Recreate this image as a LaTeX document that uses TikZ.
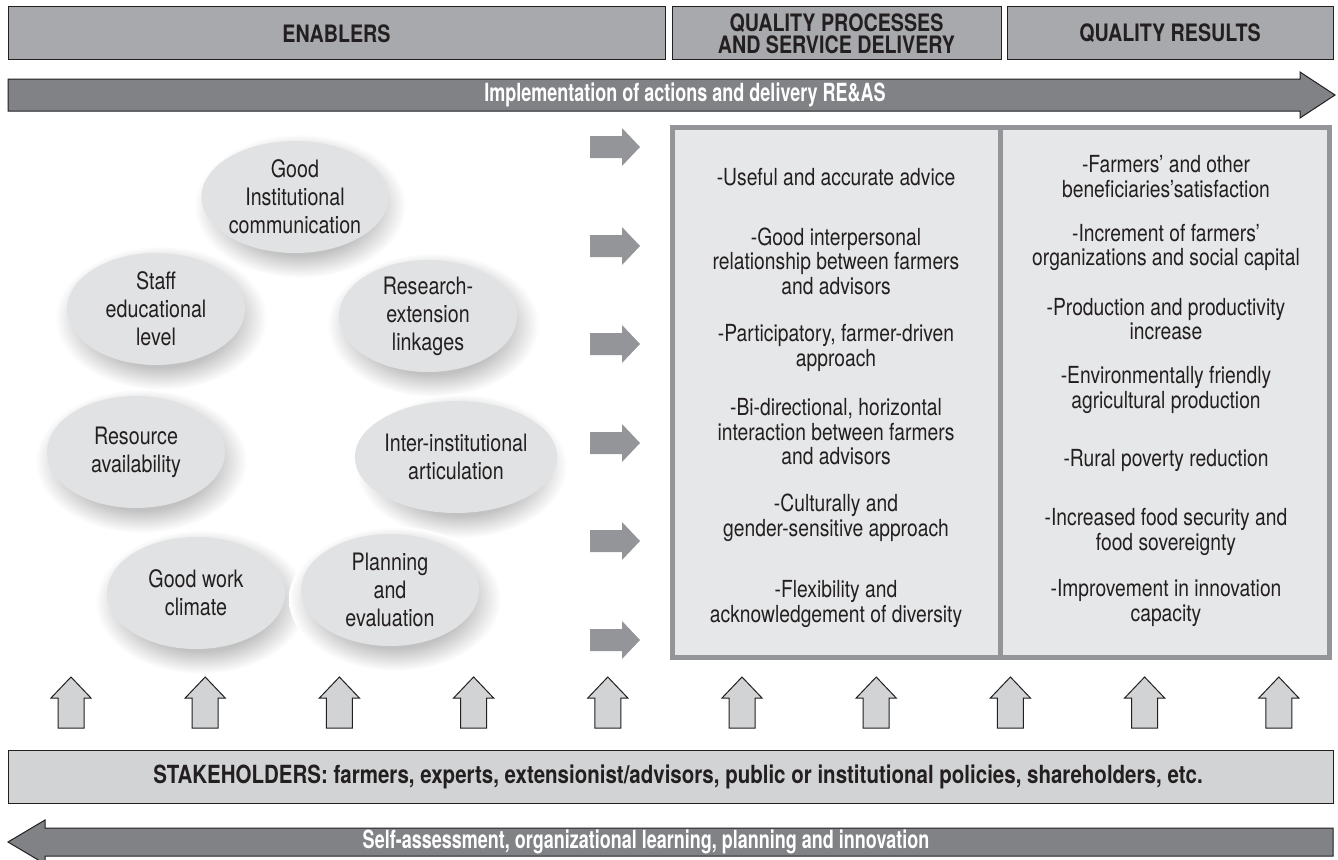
\documentclass[tikz,border=0pt]{standalone}
\usepackage{fontspec}
\setmainfont{TeX Gyre Heros}[FakeStretch=0.82]
\newfontfamily\cndfont{TeX Gyre Heros}[FakeStretch=0.72]
\usetikzlibrary{shapes.geometric}
\definecolor{hdrfill}{HTML}{A7A9AC}
\definecolor{implfill}{HTML}{808285}
\definecolor{rarrfill}{HTML}{939598}
\definecolor{boxfill}{HTML}{E6E7E8}
\definecolor{boxborder}{HTML}{939598}
\definecolor{upfill}{HTML}{D1D3D4}
\definecolor{edgecol}{HTML}{231F20}
\definecolor{ellfill}{HTML}{E1E2E3}
\definecolor{txtcol}{HTML}{231F20}
\pgfdeclareradialshading{softshadow}{\pgfpoint{0bp}{0bp}}{color(0bp)=(black!26); color(17bp)=(black!24); color(21bp)=(black!12); color(25bp)=(white); color(50bp)=(white)}
\tikzset{
  every node/.style={inner sep=0pt, text=txtcol},
  hdrbox/.style={draw=edgecol, line width=1pt, fill=hdrfill, align=center,
    font=\fontsize{24}{26}\selectfont\bfseries},
  bigarrow/.style={draw=edgecol, line width=1pt, fill=implfill},
  arrtext/.style={text=white, font=\cndfont\fontsize{25}{28}\selectfont\bfseries},
  rarrow/.style={fill=rarrfill},
  uparrow/.style={draw=edgecol, line width=1pt, fill=upfill},
  ell/.style={ellipse, fill=ellfill, minimum width=178pt, minimum height=112pt,
    align=center, font=\fontsize{24}{28}\selectfont},
  bodytxt/.style={align=center, font=\fontsize{23.5}{24.5}\selectfont},
  stakebox/.style={draw=edgecol, line width=1pt, fill=upfill},
  staketxt/.style={font=\fontsize{25}{27}\selectfont\bfseries},
}
\newcommand{\shadowell}[2]{\shade[shading=softshadow] (#1+5,#2+9) ellipse [x radius=106pt, y radius=72pt];}
\begin{document}
\begin{tikzpicture}[x=1pt,y=-1pt]
\useasboundingbox (0,0) rectangle (1338,859);
\clip (0,0) rectangle (1338,859);
% header boxes
\node[hdrbox, minimum width=657pt, minimum height=53pt] (enablers) at (336.5,33.5) {ENABLERS};
\node[hdrbox, minimum width=329pt, minimum height=53pt] (qp) at (836.5,33.5) {QUALITY PROCESSES\\[-4pt]AND SERVICE DELIVERY};
\node[hdrbox, minimum width=326pt, minimum height=53pt] (qr) at (1170,33.5) {QUALITY RESULTS};
% implementation arrow
\draw[bigarrow] (8,79) -- (1300,79) -- (1300,72) -- (1335,95) -- (1300,118) -- (1300,111) -- (8,111) -- cycle;
\node[arrtext] (impl) at (685,95) {Implementation of actions and delivery RE\&AS};
% right arrows
\foreach \yy [count=\i] in {147,246,344,443,541,640}{
  \fill[rarrow] (590,\yy-11) -- (622,\yy-11) -- (622,\yy-19) -- (640,\yy) -- (622,\yy+19) -- (622,\yy+11) -- (590,\yy+11) -- cycle;
}
% big box
\draw[line width=5pt, draw=boxborder, fill=boxfill] (672.5,127.5) rectangle (1329.5,657.5);
\draw[line width=5pt, draw=boxborder] (1000,127.5) -- (1000,657.5);
% ellipses with shadows
\shadowell{295}{197}
\shadowell{156}{309}
\shadowell{428}{316}
\shadowell{136}{452}
\shadowell{456}{457}
\shadowell{196}{593}
\shadowell{390}{590}
\node[ell] (gic) at (295,197) {Good\\Institutional\\communication};
\node[ell] (staff) at (156,309) {Staff\\educational\\level};
\node[ell] (res) at (428,316) {Research-\\extension\\linkages};
\node[ell] (resource) at (136,452) {Resource\\availability};
\node[ell] (inter) at (456,457) {Inter-institutional\\articulation};
\node[ell] (work) at (196,593) {Good work\\climate};
\node[ell] (plan) at (390,590) {Planning\\and\\evaluation};
% process texts
\node[bodytxt] (p1) at (836,177) {-Useful and accurate advice};
\node[bodytxt] (p2) at (836,261) {-Good interpersonal\\relationship between farmers\\and advisors};
\node[bodytxt] (p3) at (836,348) {-Participatory, farmer-driven\\approach};
\node[bodytxt] (p4) at (836,432) {-Bi-directional, horizontal\\interaction between farmers\\and advisors};
\node[bodytxt] (p5) at (836,518) {-Culturally and\\gender-sensitive approach};
\node[bodytxt] (p6) at (836,604) {-Flexibility and\\acknowledgement of diversity};
% results texts
\node[bodytxt] (r1) at (1166,176.5) {-Farmers’ and other\\beneficiaries’satisfaction};
\node[bodytxt] (r2) at (1166,247.5) {-Increment of farmers’\\organizations and social capital};
\node[bodytxt] (r3) at (1166,319) {-Production and productivity\\increase};
\node[bodytxt] (r4) at (1166,390) {-Environmentally friendly\\agricultural production};
\node[bodytxt] (r5) at (1166,460) {-Rural poverty reduction};
\node[bodytxt] (r6) at (1166,532) {-Increased food security and\\food sovereignty};
\node[bodytxt] (r7) at (1166,603) {-Improvement in innovation\\capacity};
% up arrows
\foreach \xx in {71,205.2,339.4,473.6,607.8,742,876.2,1010.4,1144.6,1278.8}{
  \draw[uparrow] (\xx-13,728) -- (\xx-13,698) -- (\xx-20,698) -- (\xx,677) -- (\xx+20,698) -- (\xx+13,698) -- (\xx+13,728) -- cycle;
}
% stakeholders
\node[stakebox, minimum width=1325pt, minimum height=53pt] (stake) at (670.5,776.5) {};
\node[staketxt] (staketext) at (678,776.5) {STAKEHOLDERS: farmers, experts, extensionist/advisors, public or institutional policies, shareholders, etc.};
% bottom arrow
\draw[bigarrow] (1333,828) -- (45,828) -- (45,820) -- (8,842) -- (45,864) -- (45,856) -- (1333,856) -- cycle;
\node[arrtext] (self) at (646,842) {Self-assessment, organizational learning, planning and innovation};
\end{tikzpicture}
\end{document}
